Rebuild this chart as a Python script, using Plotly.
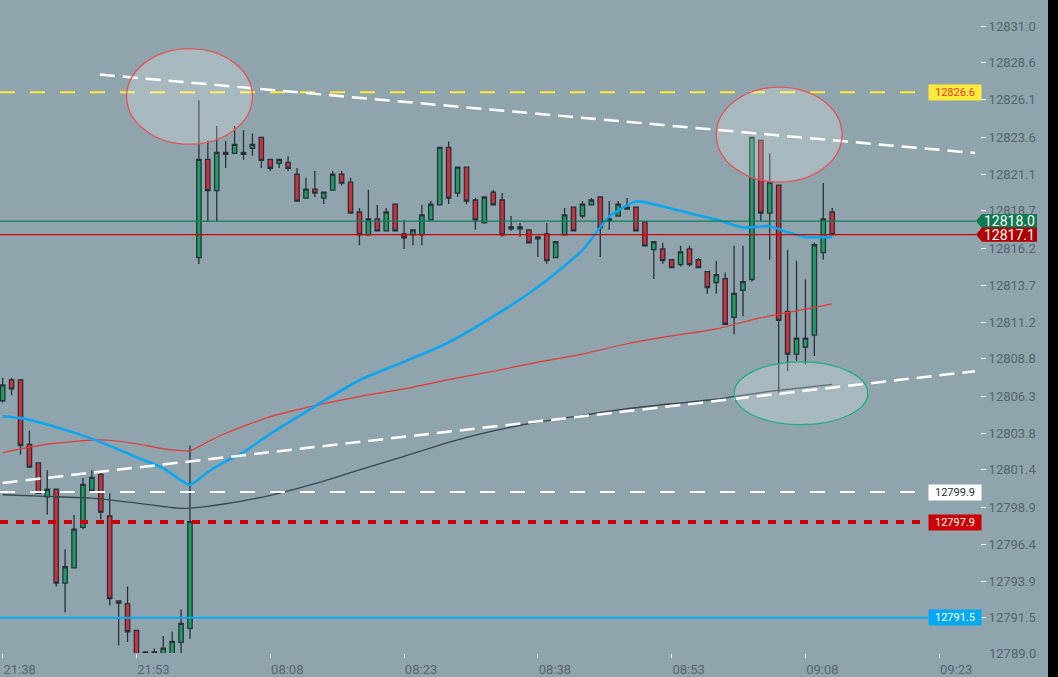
import plotly.graph_objects as go

# one-minute bars: 21:38-21:59, then 08:00-09:11 (index along the x axis)
candle_open = [
    12806.00, 12807.39, 12807.39, 12803.08, 12801.85, 12799.58, 12800.09, 12793.82, 12794.84, 12797.54,
    12800.02, 12801.08, 12798.30, 12792.63, 12792.45, 12790.66, 12789.22, 12789.17, 12789.00, 12789.00,
    12789.86, 12790.79, 12815.56, 12822.13, 12820.04, 12822.59, 12822.53, 12822.59, 12822.86, 12823.59,
    12822.13, 12821.86, 12821.93, 12821.13, 12819.54, 12820.14, 12819.54, 12820.07, 12821.13, 12820.60,
    12818.61, 12817.08, 12818.15, 12817.35, 12819.14, 12817.15, 12817.08, 12817.08, 12818.08, 12819.08,
    12822.93, 12819.87, 12821.60, 12819.41, 12817.88, 12819.94, 12819.41, 12817.61, 12817.61, 12817.42,
    12816.95, 12817.15, 12815.56, 12817.08, 12818.94, 12818.34, 12819.08, 12819.61, 12818.15, 12818.34,
    12818.94, 12818.94, 12817.95, 12816.09, 12816.15, 12815.42, 12815.09, 12816.15, 12815.42, 12814.63,
    12813.90, 12814.16, 12811.57, 12813.37, 12814.10, 12823.39, 12818.54, 12820.40, 12811.97, 12809.12,
    12809.58, 12810.38, 12815.89, 12818.61,
]
candle_high = [
    12807.54, 12807.54, 12807.45, 12804.00, 12801.85, 12801.35, 12800.09, 12796.08, 12798.36, 12800.84,
    12801.35, 12801.17, 12799.80, 12792.63, 12793.60, 12790.66, 12789.25, 12789.45, 12790.28, 12790.59,
    12792.05, 12803.01, 12826.07, 12823.36, 12824.36, 12823.36, 12824.36, 12824.07, 12823.87, 12823.59,
    12822.13, 12822.13, 12822.33, 12821.55, 12820.89, 12821.35, 12819.94, 12821.35, 12821.35, 12820.89,
    12818.88, 12820.09, 12819.08, 12818.88, 12819.14, 12818.08, 12817.42, 12819.09, 12819.36, 12822.93,
    12823.32, 12821.60, 12821.60, 12819.54, 12819.61, 12820.07, 12819.87, 12818.34, 12817.88, 12817.42,
    12817.01, 12817.88, 12816.62, 12818.88, 12818.94, 12819.34, 12819.54, 12819.61, 12819.34, 12819.34,
    12819.54, 12818.94, 12817.95, 12816.62, 12816.55, 12815.42, 12816.35, 12816.35, 12815.56, 12814.63,
    12815.36, 12814.56, 12816.35, 12816.35, 12823.59, 12823.39, 12822.53, 12820.40, 12816.09, 12815.36,
    12814.10, 12816.55, 12820.54, 12818.88,
]
candle_low = [
    12805.88, 12806.37, 12802.41, 12801.55, 12799.82, 12798.40, 12793.60, 12791.88, 12794.84, 12797.41,
    12800.02, 12798.07, 12792.32, 12789.66, 12789.88, 12788.90, 12789.00, 12789.00, 12788.90, 12788.90,
    12789.10, 12790.10, 12815.13, 12817.95, 12817.95, 12821.55, 12822.53, 12822.10, 12822.37, 12821.55,
    12821.35, 12821.55, 12821.35, 12819.34, 12819.54, 12819.61, 12819.14, 12820.07, 12820.38, 12818.54,
    12816.39, 12817.08, 12817.35, 12817.35, 12817.35, 12816.13, 12816.39, 12816.39, 12818.08, 12819.08,
    12819.14, 12819.61, 12819.14, 12817.42, 12817.88, 12819.08, 12816.95, 12817.35, 12816.95, 12816.55,
    12815.60, 12815.16, 12815.56, 12817.08, 12817.35, 12818.15, 12819.08, 12815.60, 12817.42, 12818.34,
    12818.81, 12817.35, 12816.35, 12814.14, 12815.16, 12814.89, 12814.96, 12814.96, 12814.89, 12813.14,
    12813.14, 12811.11, 12810.45, 12811.64, 12813.96, 12818.01, 12815.42, 12806.55, 12807.99, 12808.65,
    12808.43, 12808.99, 12815.42, 12817.10,
]
candle_close = [
    12807.06, 12806.79, 12803.01, 12801.57, 12799.82, 12800.09, 12793.82, 12794.91, 12797.43, 12800.42,
    12800.88, 12798.56, 12792.78, 12792.49, 12790.57, 12789.00, 12789.17, 12789.22, 12789.47, 12789.93,
    12791.13, 12797.92, 12822.13, 12820.04, 12822.59, 12822.46, 12823.12, 12822.46, 12823.12, 12822.06,
    12821.53, 12822.13, 12821.53, 12819.34, 12820.14, 12819.87, 12819.94, 12821.13, 12820.54, 12818.54,
    12817.08, 12818.15, 12817.35, 12818.61, 12817.35, 12816.88, 12817.42, 12818.41, 12819.14, 12822.93,
    12819.54, 12821.60, 12819.34, 12818.08, 12819.61, 12819.08, 12817.08, 12817.48, 12817.48, 12816.55,
    12816.82, 12815.36, 12816.62, 12818.41, 12817.35, 12819.14, 12819.41, 12817.55, 12818.01, 12819.14,
    12818.81, 12817.35, 12816.35, 12816.62, 12815.36, 12814.89, 12815.95, 12815.09, 12814.89, 12813.56,
    12814.43, 12811.11, 12813.17, 12813.96, 12823.59, 12818.54, 12820.60, 12811.37, 12809.12, 12810.18,
    12810.18, 12816.42, 12818.15, 12817.10,
]
candle_x = list(range(len(candle_open)))

time_ticks = [0, 15, 30, 45, 60, 75, 90, 105]
time_labels = ["21:38", "21:53", "08:08", "08:23", "08:38", "08:53", "09:08", "09:23"]

price_labels = ["12831.0", "12828.6", "12826.1", "12823.6", "12821.1", "12818.7", "12816.2",
                "12813.7", "12811.2", "12808.8", "12806.3", "12803.8", "12801.4", "12798.9",
                "12796.4", "12793.9", "12791.5", "12789.0"]

# moving averages, read at a few bars
ma_fast_x = [0, 2, 5, 10, 15, 18, 21, 23, 25, 27, 30, 35, 40, 45, 50, 55, 60, 65, 68, 71, 73, 75,
             80, 83, 86, 88, 90, 93]
ma_fast = [12804.97, 12804.84, 12804.42, 12803.47, 12802.23, 12801.50, 12800.39, 12801.24, 12801.95,
           12802.56, 12803.79, 12805.63, 12807.37, 12808.60, 12809.89, 12811.63, 12813.60, 12816.06,
           12818.30, 12819.31, 12819.13, 12818.82, 12818.10, 12817.57, 12817.66, 12817.25, 12816.94,
           12816.95]
ma_mid_x = [0, 2, 5, 10, 12, 15, 18, 21, 23, 25, 30, 35, 40, 45, 50, 55, 60, 65, 70, 75, 80, 85, 90, 93]
ma_mid = [12802.53, 12802.78, 12803.10, 12803.37, 12803.36, 12803.13, 12802.80, 12802.66, 12803.26,
          12803.83, 12804.94, 12805.68, 12806.28, 12806.79, 12807.41, 12807.97, 12808.58, 12809.12,
          12809.81, 12810.33, 12810.80, 12811.55, 12812.12, 12812.47]
ma_slow_x = [0, 5, 10, 15, 20, 23, 25, 30, 35, 40, 45, 50, 55, 60, 65, 70, 75, 80, 85, 90, 93]
ma_slow = [12799.72, 12799.61, 12799.49, 12799.16, 12798.81, 12798.95, 12799.12, 12799.68, 12800.46,
           12801.38, 12802.29, 12803.22, 12803.98, 12804.58, 12805.03, 12805.47, 12805.80, 12806.10,
           12806.55, 12806.89, 12807.10]

level_prices = [12826.6, 12799.9, 12797.9, 12791.5]
level_labels = ["12826.6", "12799.9", "12797.9", "12791.5"]
last_prices = [12818.0, 12817.1]
last_labels = ["12818.0", "12817.1"]

trend_upper_x = [10.9, 109.0]
trend_upper_y = [12827.79, 12822.55]
trend_lower_x = [0.0, 109.0]
trend_lower_y = [12800.51, 12807.97]

# drawn ellipses (bar index / price corners)
ellipse_x0 = [13.9, 80.0, 82.0]
ellipse_x1 = [28.0, 94.1, 97.0]
ellipse_y0 = [12823.14, 12820.60, 12804.40]
ellipse_y1 = [12829.52, 12826.95, 12808.60]

# layout numbers
PLOT_W = 980
PLOT_H = 657
BG = "#90a4ae"
AXIS_TEXT = "#56656d"
X_RANGE = [-0.30, 109.57]
Y_RANGE = [12789.15, 12832.77]
px_per_price = PLOT_H / (Y_RANGE[1] - Y_RANGE[0])

fig = go.Figure()

fig.add_trace(go.Candlestick(
    x=candle_x, open=candle_open, high=candle_high, low=candle_low, close=candle_close,
    increasing=dict(fillcolor="#1f9d63", line=dict(color="#263238", width=1.3)),
    decreasing=dict(fillcolor="#d12f3e", line=dict(color="#263238", width=1.3)),
    whiskerwidth=0, showlegend=False, hoverinfo="skip"
))

# moving averages
for xs, ys, color, width in [(ma_slow_x, ma_slow, "#37474f", 1.3),
                             (ma_mid_x, ma_mid, "#e53935", 1.2),
                             (ma_fast_x, ma_fast, "#0aa6f2", 2.6)]:
    fig.add_trace(go.Scatter(
        x=xs, y=ys, mode="lines", line=dict(color=color, width=width, shape="spline", smoothing=0.6),
        showlegend=False, hoverinfo="skip"
    ))

shapes = []

# price levels with their boxes on the right
level_styles = [
    dict(color="#ffeb3b", width=2, dash="15px,15px"),
    dict(color="#ffffff", width=2, dash="15px,15px"),
    dict(color="#cc0000", width=4, dash="8px,8px"),
    dict(color="#03a9f4", width=2, dash="solid"),
]
level_boxes = [("#ffeb3b", "#e53935"), ("#ffffff", "#263238"), ("#cc0000", "#ffffff"), ("#03a9f4", "#ffffff")]
box_left = 928 / PLOT_W

annotations = []
for price, label, style, (bg, fg) in zip(level_prices, level_labels, level_styles, level_boxes):
    shapes.append(dict(type="line", xref="paper", yref="y", x0=0, x1=box_left, y0=price, y1=price,
                       line=style, layer="above"))
    annotations.append(dict(xref="paper", yref="y", x=box_left, y=price, xanchor="left", yanchor="middle",
                            text=label, showarrow=False, bgcolor=bg, width=50, height=13, borderpad=1,
                            font=dict(family="Roboto, sans-serif", size=11, color=fg)))

# trend lines
for xs, ys in [(trend_upper_x, trend_upper_y), (trend_lower_x, trend_lower_y)]:
    shapes.append(dict(type="line", xref="x", yref="y", x0=xs[0], x1=xs[1], y0=ys[0], y1=ys[1],
                       line=dict(color="#ffffff", width=2.5, dash="15px,8px"), layer="above"))

# ellipses
ellipse_lines = ["#e35555", "#e35555", "#1fae7f"]
for x0, x1, y0, y1, lc in zip(ellipse_x0, ellipse_x1, ellipse_y0, ellipse_y1, ellipse_lines):
    shapes.append(dict(type="circle", xref="x", yref="y", x0=x0, x1=x1, y0=y0, y1=y1,
                       fillcolor="rgba(255,255,255,0.22)", line=dict(color=lc, width=1.3), layer="above"))

# last price lines + arrow tags
last_colors = [("#0f7a4f", "#137a55"), ("#b00000", "#cc0000")]
tag_h = 7.2 / px_per_price
x_tip, x_sh, x_end = 976 / PLOT_W, 982 / PLOT_W, 1037 / PLOT_W
for price, label, (tag_bg, line_c) in zip(last_prices, last_labels, last_colors):
    shapes.append(dict(type="line", xref="paper", yref="y", x0=0, x1=x_tip, y0=price, y1=price,
                       line=dict(color=line_c, width=1.3), layer="above"))
    shapes.append(dict(type="path", xref="paper", yref="y", layer="above",
                       path=f"M {x_tip},{price} L {x_sh},{price + tag_h} L {x_end},{price + tag_h} "
                            f"L {x_end},{price - tag_h} L {x_sh},{price - tag_h} Z",
                       fillcolor=tag_bg, line=dict(width=0)))
    annotations.append(dict(xref="paper", yref="y", x=(x_sh + x_end) / 2, y=price, xanchor="center",
                            yanchor="middle", text=label, showarrow=False,
                            font=dict(family="Roboto, sans-serif", size=14, color="#ffffff")))

# dark strip on the far right
shapes.append(dict(type="rect", xref="paper", yref="paper", x0=1048 / PLOT_W, x1=1.12, y0=-0.1, y1=1.1,
                   fillcolor="#000000", line=dict(width=0), layer="above"))

# lowest price label sits clamped at the bottom edge
annotations.append(dict(xref="paper", yref="paper", x=1, y=0, xanchor="left", yanchor="middle",
                        xshift=7, yshift=0, text=price_labels[-1], showarrow=False,
                        font=dict(family="Roboto, sans-serif", size=13, color=AXIS_TEXT)))

fig.update_layout(
    width=1058, height=677,
    margin=dict(l=0, r=1058 - PLOT_W, t=0, b=677 - PLOT_H),
    paper_bgcolor=BG, plot_bgcolor=BG,
    showlegend=False,
    shapes=shapes, annotations=annotations,
    font=dict(family="Roboto, sans-serif", size=13, color=AXIS_TEXT),
    xaxis=dict(range=X_RANGE, tickvals=time_ticks, ticktext=time_labels, showgrid=False, zeroline=False,
               showline=False, ticks="outside", ticklen=4, tickcolor="#eef2f4", tickwidth=1,
               ticklabelshift=17, rangeslider=dict(visible=False),
               tickfont=dict(family="Roboto, sans-serif", size=13, color=AXIS_TEXT)),
    yaxis=dict(range=Y_RANGE, side="right", tickvals=[float(t) for t in price_labels[:-1]],
               ticktext=price_labels[:-1], showgrid=False, zeroline=False, showline=False,
               ticks="outside", ticklen=5, tickcolor="#eef2f4", tickwidth=1,
               tickfont=dict(family="Roboto, sans-serif", size=13, color=AXIS_TEXT)),
)

fig.write_html("out.html", config={"displayModeBar": False},
               post_script="document.body.style.margin='0';")
